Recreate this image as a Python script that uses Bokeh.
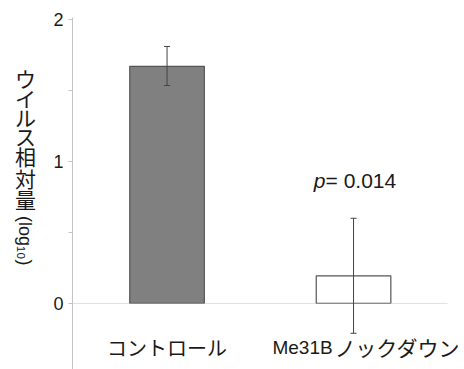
import math
from bokeh.plotting import figure
from bokeh.layouts import row
from bokeh.models import Range1d, FixedTicker, BoxAnnotation, Whisker, ColumnDataSource, TeeHead
from bokeh.core.properties import value
from bokeh.embed import file_html
from bokeh.resources import INLINE

# ---- data ----
categories = ["コントロール", "Me31B ノックダウン"]
values = [1.67, 0.195]
err_upper = [1.81, 0.60]
err_lower = [1.535, -0.21]
bar_fill = ["#808080", "#ffffff"]
y_ticks = [0, 1, 2]
y_minor = [0.5, 1.5]
y_label_chars = ["ウ", "イ", "ル", "ス", "相", "対", "量"]
y_label_tail = "(log₁₀)"
p_value_text = "= 0.014"

JP = "Noto Sans CJK JP"
LAT = "Liberation Sans"
TXT = "#1a1a1a"
AX = "#c4c4c4"
H = 369

x_idx = list(range(len(categories)))

# ---- left strip holding the vertical y-axis title ----
t = figure(width=45, height=H, output_backend="svg", toolbar_location=None,
           x_axis_type=None, y_axis_type=None,
           x_range=Range1d(0, 45), y_range=Range1d(H, 0),
           min_border_left=0, min_border_right=0, min_border_top=0, min_border_bottom=0)
t.outline_line_color = None
t.grid.visible = False
char_pos = [63, 84, 104, 124, 145, 168, 190]
t.text(x=[25] * len(y_label_chars), y=char_pos, text=y_label_chars, text_font=value(JP),
       text_font_size="21px", text_color=TXT, text_align="center", text_baseline="middle")
t.text(x=[24], y=[234], text=[y_label_tail], text_font=value(LAT), text_font_size="18px",
       text_color=TXT, text_align="center", text_baseline="middle", angle=-math.pi / 2)

# ---- main chart ----
p = figure(width=464 - 45, height=H, output_backend="svg", toolbar_location=None,
           x_axis_type=None,
           x_range=Range1d(-0.507, 1.595), y_range=Range1d(-0.465, 2.014),
           min_border_left=27, min_border_right=0, min_border_top=17, min_border_bottom=0)
p.outline_line_color = None
p.grid.visible = False

yax = p.yaxis[0]
yax.ticker = FixedTicker(ticks=y_ticks, minor_ticks=y_minor)
yax.axis_line_color = AX
yax.major_tick_line_color = AX
yax.minor_tick_line_color = AX
yax.major_tick_in = 0
yax.major_tick_out = 4
yax.minor_tick_in = 0
yax.minor_tick_out = 4
yax.major_label_text_font = LAT
yax.major_label_text_font_size = "18px"
yax.major_label_text_color = TXT
yax.major_label_standoff = 5

# zero baseline (ends a little before the right edge, as in the reference)
p.add_layout(BoxAnnotation(bottom=0, top=0, right=1.504, fill_alpha=0, line_color=AX, line_width=1))

src = ColumnDataSource(dict(x=x_idx, top=values, fill=bar_fill, upper=err_upper, lower=err_lower))
p.vbar(x="x", top="top", width=0.4, fill_color="fill", line_color="#555555", line_width=1.2, source=src)

p.add_layout(Whisker(base="x", upper="upper", lower="lower", source=src, line_color="#444444", line_width=1,
                     level="overlay",
                     upper_head=TeeHead(size=6, line_color="#444444"),
                     lower_head=TeeHead(size=6, line_color="#444444")))

# category labels
lab_y = -0.31
p.text(x=[x_idx[0]], y=[lab_y], text=[categories[0]], text_font=value(JP), text_font_size="20px",
       text_color=TXT, text_align="center", text_baseline="middle")
latin, jp = categories[1].split(" ")
p.text(x=[x_idx[1] - 0.435], y=[lab_y], text=[latin], text_font=value(LAT), text_font_size="19px",
       text_color=TXT, text_align="left", text_baseline="middle")
p.text(x=[x_idx[1] + 0.575], y=[lab_y], text=[jp], text_font=value(JP), text_font_size="21px",
       text_color=TXT, text_align="right", text_baseline="middle")

# p-value annotation
pv_y = 0.866
p.text(x=[x_idx[1] - 0.214], y=[pv_y], text=["p"], text_font=value(LAT), text_font_size="21px",
       text_font_style="italic", text_color=TXT, text_align="left", text_baseline="middle")
p.text(x=[x_idx[1] - 0.150], y=[pv_y], text=[p_value_text], text_font=value(LAT), text_font_size="21px",
       text_color=TXT, text_align="left", text_baseline="middle")

layout = row(t, p)
open("out.html", "w").write(file_html(layout, INLINE))
